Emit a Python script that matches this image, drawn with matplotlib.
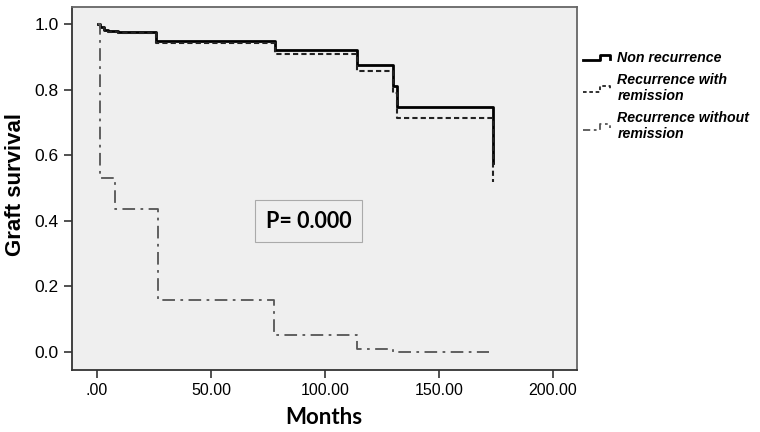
import matplotlib
matplotlib.use('Agg')
import matplotlib.pyplot as plt
from matplotlib.lines import Line2D
from matplotlib.legend_handler import HandlerBase

# Kaplan-Meier style step data (months, survival)
nonrec_t = [0.3, 1.5, 3, 5, 9, 26, 78, 114, 130, 131.5, 173.7]
nonrec_s = [1.0, 0.99, 0.983, 0.978, 0.975, 0.948, 0.921, 0.875, 0.811, 0.747, 0.576]

remis_t = [0.3, 1.5, 3, 5, 9, 26, 78, 114, 130, 131.5, 173.7]
remis_s = [1.0, 0.99, 0.983, 0.976, 0.972, 0.942, 0.909, 0.857, 0.79, 0.713, 0.518]

norem_t = [0.3, 1.5, 8, 26.8, 77.6, 114, 130, 172]
norem_s = [1.0, 0.53, 0.436, 0.158, 0.052, 0.009, 0.0, 0.0]

labels = ['Non recurrence', 'Recurrence with\nremission', 'Recurrence without\nremission']
xticks = [0, 50, 100, 150, 200]
xticklabels = ['.00', '50.00', '100.00', '150.00', '200.00']
yticks = [0.0, 0.2, 0.4, 0.6, 0.8, 1.0]


class StepHandler(HandlerBase):
    # small step-shaped legend icon like the SPSS one
    def create_artists(self, legend, orig_handle, xdescent, ydescent,
                       width, height, fontsize, trans):
        lo = height * 0.2 - ydescent
        hi = height * 0.75 - ydescent
        xs = [-xdescent, -xdescent + width * 0.6, -xdescent + width * 0.6,
              -xdescent + width, -xdescent + width]
        ys = [lo, lo, hi, hi, lo + 0.15 * height]
        line = Line2D(xs, ys)
        line.update_from(orig_handle)
        line.set_data(xs, ys)
        line.set_transform(trans)
        return [line]


fig = plt.figure(figsize=(7.6, 4.32), dpi=100)
ax = fig.add_axes([0.0947, 0.1435, 0.664, 0.8405])
ax.set_facecolor('#efefef')

ax.step(nonrec_t, nonrec_s, where='post', color='black', lw=2.0)
ax.step(remis_t, remis_s, where='post', color='#222222', lw=1.5, dashes=(2.5, 1.5))
ax.step(norem_t, norem_s, where='post', color='#555555', lw=1.3, dashes=(7, 3, 1.5, 3))

ax.set_xlim(-11, 210.5)
ax.set_ylim(-0.055, 1.052)
ax.set_xticks(xticks)
ax.set_xticklabels(xticklabels)
ax.set_yticks(yticks)
ax.set_yticklabels([f'{v:.1f}' for v in yticks])
ax.tick_params(direction='out', length=6, width=1.2, labelsize=11.5, color='#333333')
ax.tick_params(axis='y', labelsize=12.5)
for lab in ax.get_xticklabels() + ax.get_yticklabels():
    lab.set_family('Liberation Sans')

for side in ['left', 'bottom']:
    ax.spines[side].set_color('#333333')
    ax.spines[side].set_linewidth(1.3)
for side in ['top', 'right']:
    ax.spines[side].set_color('#666666')
    ax.spines[side].set_linewidth(1.3)

ax.set_xlabel('Months', fontsize=16, fontweight='bold', family='Lato', labelpad=6)
ax.set_ylabel('Graft survival', fontsize=16, fontweight='bold', family='Liberation Sans')
ax.yaxis.set_label_coords(-0.091, 0.511)

ax.text(0.469, 0.41, 'P= 0.000', transform=ax.transAxes, ha='center', va='center',
        fontsize=15.5, fontweight='bold', family='Lato',
        bbox=dict(boxstyle='square,pad=0.5', facecolor='#efefef', edgecolor='#aaaaaa', lw=0.8))

handles = [Line2D([], [], color='black', lw=2.0),
           Line2D([], [], color='#222222', lw=1.3, dashes=(2, 1.5)),
           Line2D([], [], color='#555555', lw=1.3, dashes=(4, 2, 1.5, 2))]
fig.legend(handles, labels, loc='upper left', bbox_to_anchor=(0.762, 0.891),
           frameon=False, borderaxespad=0, borderpad=0.3,
           handlelength=1.9, handletextpad=0.5, labelspacing=0.55,
           handler_map={Line2D: StepHandler()},
           prop={'family': 'Liberation Sans', 'style': 'italic', 'weight': 'bold', 'size': 10.2})

fig.savefig('out.png', dpi=100)
